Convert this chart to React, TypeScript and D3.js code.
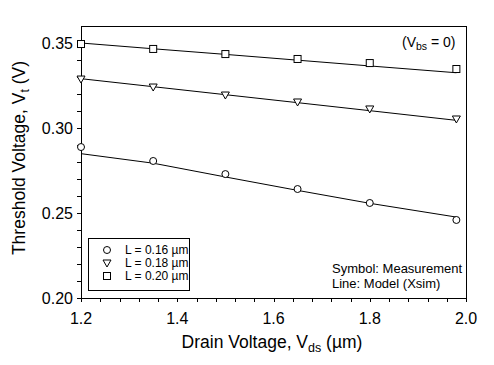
import { useEffect, useRef } from "react";
import * as d3 from "d3";

// drain voltage points (V)
const vds = [1.2, 1.35, 1.5, 1.65, 1.8, 1.98];

// measured threshold voltage (symbols)
const meas016 = [0.2888, 0.2806, 0.2729, 0.2641, 0.2559, 0.2459];
const meas018 = [0.3288, 0.3241, 0.3194, 0.3153, 0.3112, 0.3053];
const meas020 = [0.3494, 0.3465, 0.3435, 0.3406, 0.3382, 0.3347];

// model (Xsim) lines
const model016 = [0.2849, 0.2793, 0.2712, 0.2633, 0.2557, 0.2476];
const model018 = [0.329, 0.3243, 0.3196, 0.3149, 0.3102, 0.3045];
const model020 = [0.35, 0.3466, 0.3433, 0.3399, 0.3365, 0.3325];

const xTicks = [1.2, 1.4, 1.6, 1.8, 2.0];
const yTicks = [0.2, 0.25, 0.3, 0.35];
const legendLabels = ["L = 0.16 \u00b5m", "L = 0.18 \u00b5m", "L = 0.20 \u00b5m"];
const symbolTypes = ["circle", "triangle", "square"];

const FONT = "Arial, 'Liberation Sans', sans-serif";

export default function App() {
  const svgRef = useRef<SVGSVGElement>(null);

  useEffect(() => {
    if (!svgRef.current) return;
    const svg = d3.select(svgRef.current);
    svg.selectAll("*").remove();

    const L = 81, R = 466, T = 26, B = 298;
    const x = d3.scaleLinear().domain([1.2, 2.0]).range([L, R]);
    const y = d3.scaleLinear().domain([0.2, 0.36]).range([B, T]);

    svg.append("rect").attr("width", 494).attr("height", 365).attr("fill", "white");

    // frame
    svg.append("rect")
      .attr("x", L).attr("y", T).attr("width", R - L).attr("height", B - T)
      .attr("fill", "none").attr("stroke", "black").attr("stroke-width", 1)
      .attr("shape-rendering", "crispEdges");

    // x axis
    const xAxis = d3.axisBottom(x).tickValues(d3.range(0, 21).map(i => 1.2 + i * 0.04))
      .tickSize(4).tickFormat(() => "");
    const gx = svg.append("g").attr("transform", `translate(0,${B})`).call(xAxis);
    gx.select(".domain").remove();
    gx.selectAll("line").attr("shape-rendering", "crispEdges");
    svg.append("g").selectAll("text").data(xTicks).join("text")
      .attr("x", d => x(d)).attr("y", 324)
      .attr("text-anchor", "middle")
      .attr("font-family", FONT).attr("font-size", 16)
      .text(d => d.toFixed(1));

    // y axis
    const yAxis = d3.axisLeft(y).tickValues(d3.range(0, 16).map(i => 0.2 + i * 0.01))
      .tickSize(4).tickFormat(() => "");
    const gy = svg.append("g").attr("transform", `translate(${L},0)`).call(yAxis);
    gy.select(".domain").remove();
    gy.selectAll("line").attr("shape-rendering", "crispEdges");
    svg.append("g").selectAll("text").data(yTicks).join("text")
      .attr("x", 73).attr("y", d => y(d) + 6)
      .attr("text-anchor", "end")
      .attr("font-family", FONT).attr("font-size", 16)
      .text(d => d.toFixed(2));

    // axis titles
    const xt = svg.append("text")
      .attr("x", 272).attr("y", 348).attr("text-anchor", "middle")
      .attr("font-family", FONT).attr("font-size", 17.5);
    xt.append("tspan").text("Drain Voltage, V");
    xt.append("tspan").attr("font-size", 12.5).attr("dy", 4).text("ds");
    xt.append("tspan").attr("dy", -4).text(" (\u00b5m)");

    const yt = svg.append("text")
      .attr("transform", "translate(25,158) rotate(-90)")
      .attr("text-anchor", "middle")
      .attr("font-family", FONT).attr("font-size", 17.5);
    yt.append("tspan").text("Threshold Voltage, V");
    yt.append("tspan").attr("font-size", 12.5).attr("dy", 4).text("t");
    yt.append("tspan").attr("dy", -4).text(" (V)");

    // model lines
    const line = d3.line<number>().x((_, i) => x(vds[i])).y(d => y(d));
    [model016, model018, model020].forEach(m => {
      svg.append("path").attr("d", line(m)).attr("fill", "none")
        .attr("stroke", "black").attr("stroke-width", 1);
    });

    const drawSymbol = (g: d3.Selection<any, any, any, any>, type: string, cx: number, cy: number) => {
      if (type === "circle") {
        g.append("circle").attr("cx", cx).attr("cy", cy).attr("r", 3.5)
          .attr("fill", "white").attr("stroke", "black").attr("stroke-width", 1);
      } else if (type === "triangle") {
        g.append("path")
          .attr("d", `M${cx - 4},${cy - 3}L${cx + 4},${cy - 3}L${cx},${cy + 4}Z`)
          .attr("fill", "white").attr("stroke", "black").attr("stroke-width", 1);
      } else {
        g.append("rect").attr("x", cx - 3.5).attr("y", cy - 3.5)
          .attr("width", 7).attr("height", 7)
          .attr("fill", "white").attr("stroke", "black").attr("stroke-width", 1);
      }
    };

    // measured symbols
    [meas016, meas018, meas020].forEach((m, si) => {
      const g = svg.append("g");
      m.forEach((v, i) => drawSymbol(g, symbolTypes[si], x(vds[i]), y(v)));
    });

    // legend
    svg.append("rect").attr("x", 88.5).attr("y", 238.5).attr("width", 101).attr("height", 52)
      .attr("fill", "white").attr("stroke", "black").attr("stroke-width", 1);
    const lg = svg.append("g");
    legendLabels.forEach((lab, i) => {
      const cy = 250 + i * 13;
      drawSymbol(lg, symbolTypes[i], 107, cy);
      lg.append("text").attr("x", 125).attr("y", cy + 4)
        .attr("font-family", FONT).attr("font-size", 12).text(lab);
    });

    // annotations
    const ann = svg.append("text").attr("x", 402).attr("y", 47)
      .attr("font-family", FONT).attr("font-size", 14);
    ann.append("tspan").text("(V");
    ann.append("tspan").attr("font-size", 10.5).attr("dy", 3).text("bs");
    ann.append("tspan").attr("dy", -3).text(" = 0)");

    svg.append("text").attr("x", 332).attr("y", 273)
      .attr("font-family", FONT).attr("font-size", 13).text("Symbol: Measurement");
    svg.append("text").attr("x", 332).attr("y", 288)
      .attr("font-family", FONT).attr("font-size", 13).text("Line: Model (Xsim)");
  }, []);

  return (
    <svg ref={svgRef} width={494} height={365}
      style={{ position: "absolute", left: 0, top: 0, display: "block" }} />
  );
}
